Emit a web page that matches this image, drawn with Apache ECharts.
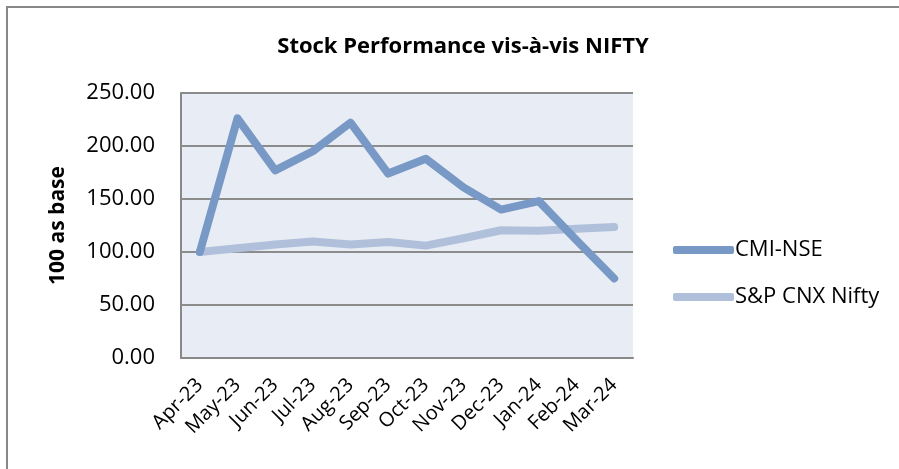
<!DOCTYPE html>
<html><head><meta charset="utf-8">
<script src="https://cdn.jsdelivr.net/npm/echarts@6/dist/echarts.min.js"></script>
<style>html,body{margin:0;padding:0;background:#fff}#c{width:899px;height:469px}</style>
</head><body><div id="c"></div>
<script>
var categories = ['Apr-23','May-23','Jun-23','Jul-23','Aug-23','Sep-23','Oct-23','Nov-23','Dec-23','Jan-24','Feb-24','Mar-24'];
var cmiNse = [100, 226, 177, 195, 222, 174, 188, 161, 140, 148, 111, 75];
var cnxNifty = [100, 103.5, 107, 110, 107, 109.5, 106, 113, 120.5, 120, 122, 123.5];
var seriesNames = ['CMI-NSE', 'S&P CNX Nifty'];
var yTicks = {min: 0, max: 250, interval: 50};

var font = '"Open Sans", "Liberation Sans", sans-serif';
var chart = echarts.init(document.getElementById('c'));
chart.setOption({
  animation: false,
  graphic: [{type:'polyline', shape:{points:[[7,469],[7,7],[899,7]]}, style:{fill:'none', stroke:'#888', lineWidth:2}}],
  title: {text: 'Stock Performance vis-à-vis NIFTY', left: 458, top: 31, textAlign: 'center',
    textStyle: {fontFamily: font, fontSize: 22, fontWeight: 'bold', color: '#000'}},
  legend: {orient: 'vertical', left: 668, top: 234, itemWidth: 61, itemHeight: 8, itemGap: 25,
    icon: 'roundRect',
    textStyle: {fontFamily: font, fontSize: 22, lineHeight: 22, color: '#000', padding: [0,0,0,-4]},
    data: seriesNames},
  grid: {left: 181, top: 93, right: 266, bottom: 111, backgroundColor: '#e8ecf4', show: true, borderWidth: 0},
  xAxis: {type: 'category', data: categories, boundaryGap: true,
    axisLine: {lineStyle: {color: '#888', width: 2}}, axisTick: {show: false},
    axisLabel: {rotate: 45, fontFamily: font, fontSize: 20, color: '#000', margin: 24}},
  yAxis: {type: 'value', min: yTicks.min, max: yTicks.max, interval: yTicks.interval,
    name: '100 as base', nameLocation: 'middle', nameGap: 112, nameRotate: 90,
    nameTextStyle: {fontFamily: font, fontSize: 21, fontWeight: 'bold', color: '#000'},
    axisLine: {show: true, lineStyle: {color: '#888', width: 2}}, axisTick: {show: false},
    splitLine: {lineStyle: {color: '#8c8c8c', width: 2}},
    axisLabel: {formatter: function(v){return v.toFixed(2);}, fontFamily: font, fontSize: 22, color: '#000', margin: 26}},
  series: [
    {name: seriesNames[0], type: 'line', data: cmiNse, symbol: 'none', color: '#7899c6',
      lineStyle: {width: 8, cap: 'round', join: 'round', color: '#7899c6'}},
    {name: seriesNames[1], type: 'line', data: cnxNifty, symbol: 'none', color: '#b0c0da', z: 1,
      lineStyle: {width: 8, cap: 'round', join: 'round', color: '#b0c0da'}}
  ]
});
</script></body></html>
